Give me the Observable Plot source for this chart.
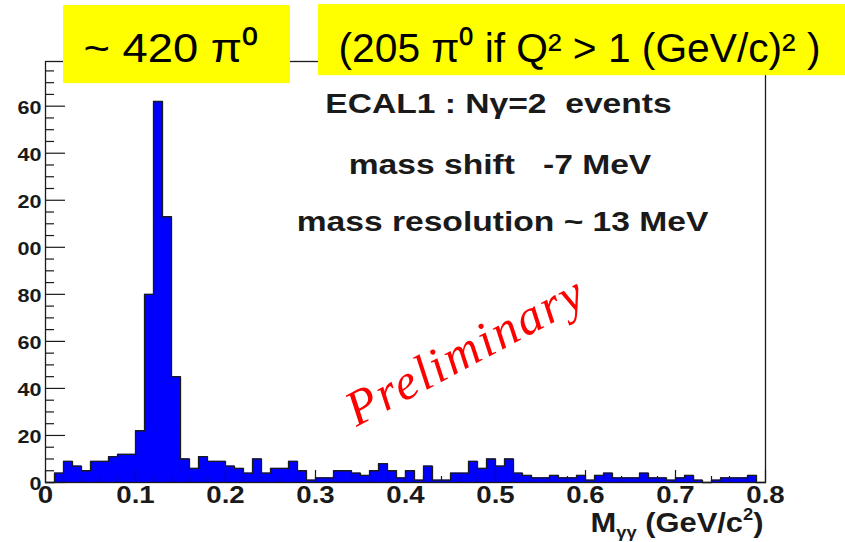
<!DOCTYPE html>
<html>
<head>
<meta charset="utf-8">
<script src="https://cdn.jsdelivr.net/npm/d3@7"></script>
<script src="https://cdn.jsdelivr.net/npm/@observablehq/plot@0.6"></script>
<style>
  html, body { margin: 0; padding: 0; background: #fff; }
  #chart { width: 845px; height: 542px; overflow: hidden; }
  #chart text { white-space: pre; }
</style>
</head>
<body>
<div id="chart"></div>
<script>
// ---- data ----
const massEdges = [0.00,0.01,0.02,0.03,0.04,0.05,0.06,0.07,0.08,0.09,
  0.10,0.11,0.12,0.13,0.14,0.15,0.16,0.17,0.18,0.19,
  0.20,0.21,0.22,0.23,0.24,0.25,0.26,0.27,0.28,0.29,
  0.30,0.31,0.32,0.33,0.34,0.35,0.36,0.37,0.38,0.39,
  0.40,0.41,0.42,0.43,0.44,0.45,0.46,0.47,0.48,0.49,
  0.50,0.51,0.52,0.53,0.54,0.55,0.56,0.57,0.58,0.59,
  0.60,0.61,0.62,0.63,0.64,0.65,0.66,0.67,0.68,0.69,
  0.70,0.71,0.72,0.73,0.74,0.75,0.76,0.77,0.78,0.79,0.80];
const counts = [0,4,9,7,5,9,9,11,12,12,
  22,80,162,113,45,10,6,11,9,9,
  7,6,4,10,4,6,6,9,5,1,
  2,2,5,5,4,3,5,8,5,2,
  5,1,7,1,1,4,4,9,6,10,
  7,10,4,3,2,2,3,2,2,3,
  1,3,4,2,2,2,4,2,2,1,
  2,3,1,0,1,2,2,2,3,0];
const yTickValues = [0,20,40,60,80,100,120,140,160];
const yTickLabels = ["0","20","40","60","80","00","20","40","60"];
const yMinorTicks = [5,10,15,25,30,35,45,50,55,65,70,75,85,90,95,105,110,115,125,130,135,145,150,155,165,170,175];
const xTickValues = [0,0.1,0.2,0.3,0.4,0.5,0.6,0.7,0.8];
const xTickLabels = ["0","0.1","0.2","0.3","0.4","0.5","0.6","0.7","0.8"];
const xMinorTicks = [0.02,0.04,0.06,0.08,0.12,0.14,0.16,0.18,0.22,0.24,0.26,0.28,0.32,0.34,0.36,0.38,
  0.42,0.44,0.46,0.48,0.52,0.54,0.56,0.58,0.62,0.64,0.66,0.68,0.72,0.74,0.76,0.78];
const xTitle = "Mγγ (GeV/c2)";
const infoLines = ["ECAL1 : Nγ=2  events", "mass shift   -7 MeV", "mass resolution ~ 13 MeV"];
const countNote = "~ 420 π⁰";
const q2Note = "(205 π⁰ if Q² > 1 (GeV/c)² )";
const watermark = "Preliminary";

// ---- derived tables ----
const bins = counts.map((c, i) => ({x1: massEdges[i], x2: massEdges[i + 1], count: c}));
const contour = massEdges.map((e, i) => ({x: e, y: counts[Math.min(i, counts.length - 1)]}));
const yLabels = yTickValues.map((v, i) => ({v, label: yTickLabels[i]}));
const xLabels = xTickValues.map((v, i) => ({v, label: xTickLabels[i]}));
const infoPos = [[0.5033, 156.9], [0.505, 131.0], [0.5078, 107.1]];
const info = infoLines.map((t, i) => ({text: t, x: infoPos[i][0], y: infoPos[i][1]}));
const boxes = [
  {x1: 0.020, x2: 0.2722, y1: 169.6, y2: 202.8},
  {x1: 0.3033, x2: 0.90, y1: 173.0, y2: 203.2}
];
const notes = [
  {text: countNote, x: 0.0422, y: 178.6, len: 174},
  {text: q2Note, x: 0.3256, y: 178.6, len: 482}
];

const ink = "#1a1a1a";
const sans = "'Liberation Sans', Arial, Helvetica, sans-serif";

const svg = Plot.plot({
  width: 845,
  height: 542,
  marginLeft: 45,
  marginRight: 80,
  marginTop: 61,
  marginBottom: 60,
  x: {domain: [0, 0.8], axis: null},
  y: {domain: [0, 179], axis: null},
  style: {background: "#fff", fontFamily: sans, color: ink},
  marks: [
    Plot.rectY(bins, {x1: "x1", x2: "x2", y: "count", fill: "#0000ff"}),
    Plot.lineY(contour, {x: "x", y: "y", curve: "step-after", stroke: ink, strokeWidth: 1.3}),
    Plot.tickY(yTickValues, {y: d => d, insetRight: 700, stroke: ink, strokeWidth: 1.2}),
    Plot.tickY(yMinorTicks, {y: d => d, insetRight: 711, stroke: ink, strokeWidth: 1.2}),
    Plot.tickX(xTickValues, {x: d => d, insetTop: 409, stroke: ink, strokeWidth: 1.2}),
    Plot.tickX(xMinorTicks, {x: d => d, insetTop: 415, stroke: ink, strokeWidth: 1.2}),
    Plot.frame({stroke: ink, strokeWidth: 1.3}),
    Plot.text(yLabels, {y: "v", text: "label", frameAnchor: "left", textAnchor: "end", dx: -4, dy: 2,
      fontSize: 18, fontWeight: "bold", fill: ink}),
    Plot.text(xLabels, {x: "v", text: "label", frameAnchor: "bottom", lineAnchor: "top", dy: 4,
      fontSize: 23, fontWeight: "bold", fill: ink}),
    Plot.text([xTitle], {text: d => d, frameAnchor: "bottom-right", textAnchor: "end", lineAnchor: "bottom",
      dx: -2, dy: 49, fontSize: 27, fontWeight: "bold", fill: ink}),
    Plot.text(info, {x: "x", y: "y", text: "text", textAnchor: "middle", lineAnchor: "bottom",
      fontSize: 28, fontWeight: "bold", fill: ink}),
    Plot.text([watermark], {text: d => d, x: 0.4656, y: 55.7, rotate: -28, fill: "#ff0000",
      fontFamily: "'Liberation Serif', 'Times New Roman', serif", fontStyle: "italic", fontSize: 50}),
    Plot.rect(boxes, {x1: "x1", x2: "x2", y1: "y1", y2: "y2", fill: "#ffff00"}),
    Plot.text(notes, {x: "x", y: "y", text: "text", textAnchor: "start", lineAnchor: "bottom",
      fontSize: 41, fill: "#000"})
  ]
});

document.getElementById("chart").append(svg);
const S = d3.select(svg);
const allText = S.selectAll("text").nodes();
const byContent = set => allText.filter(n => set.includes(n.textContent));

const stretch = 1.2;
const rootTexts = byContent([...yTickLabels, ...xTickLabels, ...infoLines]);
const titleNodes = byContent([xTitle]);
const noteNodes = notes.map(n => byContent([n.text])[0]);
const markNodes = byContent([watermark]);

// x-axis title with sub/superscripts
titleNodes.forEach(node => {
  const t = d3.select(node);
  t.text(null);
  t.append("tspan").text("M");
  t.append("tspan").attr("font-size", "16").attr("dy", "6").text("γγ");
  t.append("tspan").attr("dy", "-6").text(" (GeV/c");
  t.append("tspan").attr("font-size", "16").attr("dy", "-12").text("2");
  t.append("tspan").attr("dy", "12").text(")");
  t.attr("textLength", 173).attr("lengthAdjust", "spacingAndGlyphs");
});

// horizontal stretch of the ROOT-rendered texts
rootTexts.forEach(node => {
  const w = node.getComputedTextLength();
  d3.select(node).attr("textLength", (w * stretch).toFixed(1)).attr("lengthAdjust", "spacingAndGlyphs");
});
noteNodes.forEach((node, i) => {
  if (node) d3.select(node).attr("textLength", notes[i].len).attr("lengthAdjust", "spacingAndGlyphs");
});
markNodes.forEach(node => d3.select(node).attr("textLength", 262).attr("lengthAdjust", "spacing"));
</script>
</body>
</html>
